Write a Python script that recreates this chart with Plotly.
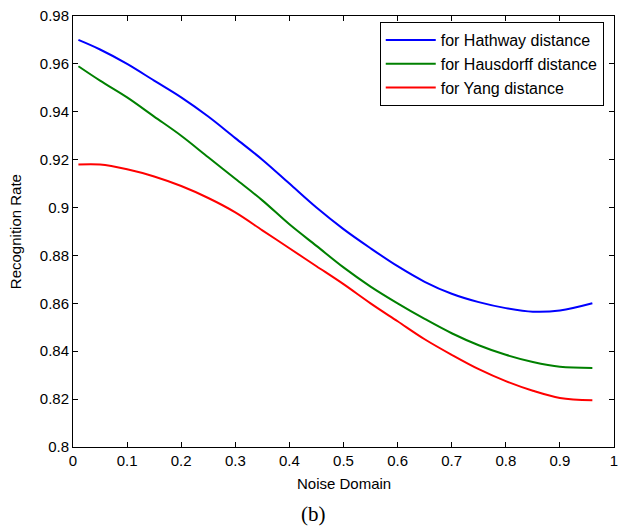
import plotly.graph_objects as go

noise = [0.01, 0.05, 0.10, 0.15, 0.20, 0.25, 0.30, 0.35, 0.40, 0.45, 0.50,
         0.55, 0.60, 0.65, 0.70, 0.75, 0.80, 0.85, 0.90, 0.96]
hathway = [0.970, 0.966, 0.960, 0.953, 0.946, 0.938, 0.929, 0.920, 0.910, 0.900, 0.891,
           0.883, 0.8755, 0.869, 0.864, 0.8605, 0.858, 0.8565, 0.857, 0.860]
hausdorff = [0.959, 0.953, 0.946, 0.938, 0.930, 0.921, 0.912, 0.903, 0.893, 0.884, 0.875,
             0.867, 0.860, 0.8535, 0.8475, 0.8425, 0.8385, 0.8355, 0.8335, 0.833]
yang = [0.918, 0.918, 0.916, 0.913, 0.909, 0.904, 0.898, 0.8905, 0.883, 0.8755, 0.868,
        0.860, 0.8525, 0.845, 0.8385, 0.8325, 0.8275, 0.8235, 0.8205, 0.8195]

series_names = ["for Hathway distance", "for Hausdorff distance", "for Yang distance"]
series_colors = ["#0000FF", "#008000", "#FF0000"]

x_ticks = [0, 0.1, 0.2, 0.3, 0.4, 0.5, 0.6, 0.7, 0.8, 0.9, 1]
x_ticktext = ["0", "0.1", "0.2", "0.3", "0.4", "0.5", "0.6", "0.7", "0.8", "0.9", "1"]
y_ticks = [0.80, 0.82, 0.84, 0.86, 0.88, 0.90, 0.92, 0.94, 0.96, 0.98]
y_ticktext = ["0.8", "0.82", "0.84", "0.86", "0.88", "0.9", "0.92", "0.94", "0.96", "0.98"]

font = "Liberation Sans, Arial, sans-serif"

fig = go.Figure()
for name, ys, col in zip(series_names, [hathway, hausdorff, yang], series_colors):
    fig.add_trace(go.Scatter(x=noise, y=ys, mode="lines", name=name,
                             line=dict(color=col, width=2, shape="spline", smoothing=1.0)))

axis_common = dict(showgrid=False, zeroline=False, showline=True, linecolor="black",
                   linewidth=1, mirror="ticks", ticks="inside", ticklen=5,
                   tickcolor="black", tickfont=dict(family=font, size=15, color="black"))

fig.update_xaxes(range=[0, 1], tickvals=x_ticks, ticktext=x_ticktext, **axis_common)
fig.update_yaxes(range=[0.8, 0.98], tickvals=y_ticks, ticktext=y_ticktext, **axis_common)

fig.update_layout(
    width=624, height=527,
    margin=dict(l=73, r=6, t=16, b=80),
    paper_bgcolor="white", plot_bgcolor="white",
    font=dict(family=font, size=15, color="black"),
    showlegend=True,
    legend=dict(x=0.567, y=0.986, xanchor="left", yanchor="top",
                bgcolor="white", bordercolor="black", borderwidth=1,
                font=dict(family=font, size=16, color="black"),
                itemwidth=50, tracegroupgap=0),
    annotations=[
        dict(text="Noise Domain", x=0.5, y=-0.084, xref="paper", yref="paper",
             xanchor="center", yanchor="middle", showarrow=False,
             font=dict(family=font, size=15, color="black")),
        dict(text="Recognition Rate", textangle=-90, x=-0.106, y=0.5,
             xref="paper", yref="paper", xanchor="center", yanchor="middle",
             showarrow=False, font=dict(family=font, size=15, color="black")),
        dict(text="(b)", x=0.445, y=-0.155, xref="paper", yref="paper",
             xanchor="center", yanchor="middle", showarrow=False,
             font=dict(family="Liberation Serif, Times New Roman, serif", size=21, color="black")),
    ],
)

fig.write_html("out.html")
